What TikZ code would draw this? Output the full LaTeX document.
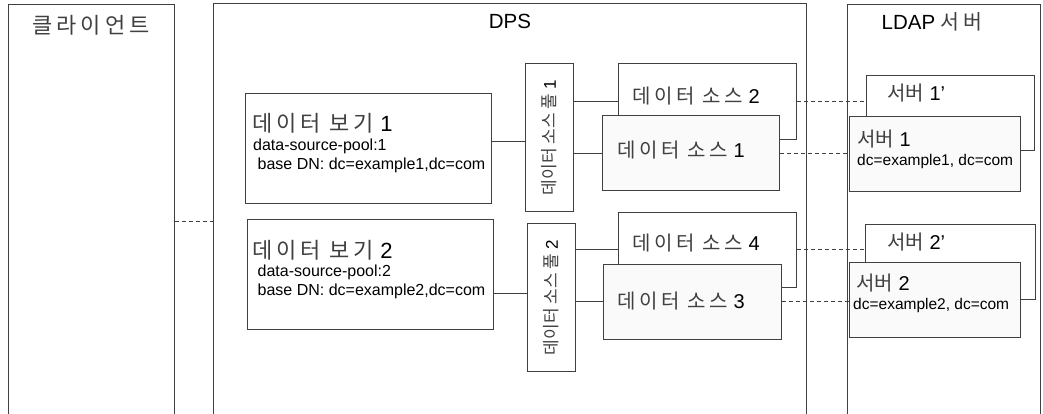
\documentclass[tikz,border=0pt]{standalone}
\usepackage{fontspec}
\setmainfont{Liberation Sans}
\newfontfamily\krfont[LetterSpace=18]{Noto Sans CJK KR}
\newfontfamily\krfontn{Noto Sans CJK KR}
\newcommand{\K}[1]{{\krfont\color{black!75}#1}}
\newcommand{\Kn}[1]{{\krfontn\color{black!75}#1}}
\begin{document}
\begin{tikzpicture}[x=1pt,y=-1pt,
  col/.style={draw=black!75, line width=0.9pt, anchor=north west, minimum height=460pt, inner sep=0pt},
  box/.style={draw=black!75, line width=0.8pt, anchor=north west, inner sep=0pt, fill=white},
  lbox/.style={box, fill=black!2},
  wire/.style={draw=black!75, line width=0.8pt},
  dline/.style={draw=black!75, line width=0.8pt, dash pattern=on 4pt off 3pt},
  txt/.style={anchor=west, inner sep=0pt},
  ttl/.style={inner sep=0pt, font=\fontsize{20.5}{24}\selectfont},
  big/.style={txt, font=\fontsize{22}{26}\selectfont},
  mid/.style={txt, font=\fontsize{20}{24}\selectfont},
  small/.style={txt, font=\fontsize{16}{19}\selectfont},
  pooltxt/.style={inner sep=0pt, rotate=90, font=\fontsize{17}{20}\selectfont}]
\clip (0,0) rectangle (1043,414);
\fill[white] (0,0) rectangle (1043,414);

% columns
\node[col, minimum width=166pt] (client) at (8,4) {};
\node[ttl] (clientT) at (91,25) {\K{\fontsize{22}{26}\selectfont 클라이언트}};
\node[col, minimum width=593pt] (dps) at (213,3) {};
\node[ttl] (dpsT) at (510,21) {DPS};
\node[col, minimum width=193pt] (ldap) at (847,4) {};
\node[ttl] (ldapT) at (932,22) {LDAP \K{서버}};

% data views
\node[box, minimum width=246pt, minimum height=110pt] (view1) at (245,93) {};
\node[big] (view1T) at (252,123) {\K{데이터 보기} 1};
\node[small] (view1a) at (253,146) {data-source-pool:1};
\node[small] (view1b) at (253,165) {~base DN: dc=example1,dc=com};

\node[box, minimum width=246pt, minimum height=110pt] (view2) at (247,219) {};
\node[big] (view2T) at (252,250) {\K{데이터 보기} 2};
\node[small] (view2a) at (253,272) {~data-source-pool:2};
\node[small] (view2b) at (253,291) {~base DN: dc=example2,dc=com};

% pools
\node[box, minimum width=48pt, minimum height=148pt] (pool1) at (525,63) {};
\node[pooltxt] (pool1T) at (pool1.center) {\Kn{데이터 소스 풀} 1};
\node[box, minimum width=48pt, minimum height=148pt] (pool2) at (527,223) {};
\node[pooltxt] (pool2T) at (pool2.center) {\Kn{데이터 소스 풀} 2};

% data sources
\node[box, minimum width=178pt, minimum height=76pt] (ds2) at (618,63) {};
\node[mid] (ds2T) at (632,96) {\K{데이터 소스} 2};
\node[lbox, minimum width=177pt, minimum height=75pt] (ds1) at (602,115) {};
\node[mid] (ds1T) at (617,150) {\K{데이터 소스} 1};

\node[box, minimum width=178pt, minimum height=75pt] (ds4) at (618,212) {};
\node[mid] (ds4T) at (632,243) {\K{데이터 소스} 4};
\node[lbox, minimum width=178pt, minimum height=75pt] (ds3) at (603,264) {};
\node[mid] (ds3T) at (617,301) {\K{데이터 소스} 3};

% servers
\node[box, minimum width=168pt, minimum height=75pt] (srv1p) at (866,75) {};
\node[mid] (srv1pT) at (887,93) {\Kn{서버} 1’};
\node[lbox, minimum width=171pt, minimum height=75pt] (srv1) at (849,116) {};
\node[mid] (srv1T) at (857,139) {\Kn{서버} 1};
\node[small, font=\fontsize{15.5}{18}\selectfont] (srv1a) at (857,161) {dc=example1, dc=com};

\node[box, minimum width=170pt, minimum height=75pt] (srv2p) at (865,224) {};
\node[mid] (srv2pT) at (887,242) {\Kn{서버} 2’};
\node[lbox, minimum width=171pt, minimum height=75pt] (srv2) at (849,262) {};
\node[mid] (srv2T) at (856,283) {\Kn{서버} 2};
\node[small, font=\fontsize{15.5}{18}\selectfont] (srv2a) at (853,305) {dc=example2, dc=com};

% connectors
\coordinate (yc) at (0,221);
\draw[dline] (client.east |- yc) -- (dps.west |- yc);

\coordinate (y1) at (0,141);
\draw[wire] (view1.east |- y1) -- (pool1.west |- y1);
\coordinate (y2) at (0,293);
\draw[wire] (view2.east |- y2) -- (pool2.west |- y2);

\coordinate (y3) at (0,101);
\draw[wire] (pool1.east |- y3) -- (ds2.west |- y3);
\coordinate (y4) at (0,153);
\draw[wire] (pool1.east |- y4) -- (ds1.west |- y4);
\coordinate (y5) at (0,249);
\draw[wire] (pool2.east |- y5) -- (ds4.west |- y5);
\coordinate (y6) at (0,301);
\draw[wire] (pool2.east |- y6) -- (ds3.west |- y6);

\draw[dline] (ds2.east |- y3) -- (srv1p.west |- y3);
\draw[dline] (ds1.east |- y4) -- (srv1.west |- y4);
\draw[dline] (ds4.east |- y5) -- (srv2p.west |- y5);
\draw[dline] (ds3.east |- y6) -- (srv2.west |- y6);
\end{tikzpicture}
\end{document}
